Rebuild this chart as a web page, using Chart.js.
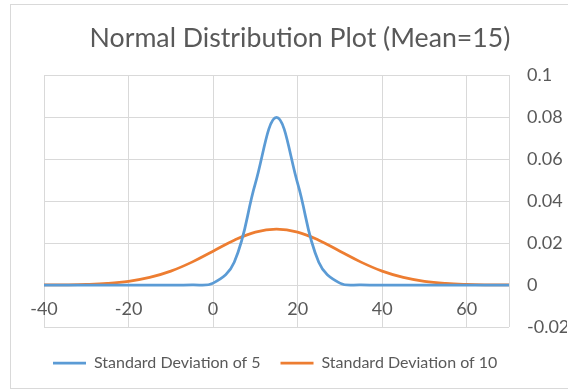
<!DOCTYPE html>
<html>
<head>
<meta charset="utf-8">
<script src="https://cdn.jsdelivr.net/npm/chart.js@4.4.1/dist/chart.umd.min.js"></script>
<style>
  html, body { margin: 0; padding: 0; background: #fff; overflow: hidden; }
  .chart-frame {
    position: absolute; left: 10px; top: 4px;
    width: 560px; height: 383px;
    border: 1px solid #d9d9d9;
  }
  .chart-box { position: relative; width: 556px; height: 383px; }
</style>
</head>
<body>
<div class="chart-frame">
  <div class="chart-box"><canvas id="normalChart"></canvas></div>
</div>
<script>
// Данные (шаг по X = 5)
const xValues = [-40, -35, -30, -25, -20, -15, -10, -5, 0, 5, 10, 15, 20, 25, 30, 35, 40, 45, 50, 55, 60, 65, 70];
const sd5Values = [0, 0, 0, 0, 0, 0, 0, 0.00003, 0.00089, 0.0108, 0.0484, 0.0798, 0.0484, 0.0108, 0.00089, 0.00003, 0, 0, 0, 0, 0, 0, 0];
const sd10Values = [0.00003, 0.0001, 0.0003, 0.00076, 0.00175, 0.0036, 0.0066, 0.0109, 0.0161, 0.0213, 0.0252, 0.0266, 0.0252, 0.0213, 0.0161, 0.0109, 0.0066, 0.0036, 0.00175, 0.00076, 0.0003, 0.0001, 0.00003];
const seriesNames = ['Standard Deviation of 5', 'Standard Deviation of 10'];
const xTicks = [-40, -20, 0, 20, 40, 60, 70];
const xTickLabels = ['-40', '-20', '0', '20', '40', '60', ''];
const yTicks = [-0.02, 0, 0.02, 0.04, 0.06, 0.08, 0.1];
const yTickLabels = ['-0.02', '0', '0.02', '0.04', '0.06', '0.08', '0.1'];

const FONT = 'Lato';
const TEXT_COLOR = '#595959';
const GRID_COLOR = '#d9d9d9';

function toPoints(values) {
    return xValues.map((x, i) => ({ x: x, y: values[i] }));
}

const ctx = document.getElementById('normalChart').getContext('2d');

new Chart(ctx, {
    type: 'line',
    data: {
        datasets: [
            {
                label: seriesNames[0],
                data: toPoints(sd5Values),
                borderColor: '#5B9BD5',
                backgroundColor: '#5B9BD5',
                borderWidth: 2.75,
                pointRadius: 0,
                tension: 0.4,
                fill: false
            },
            {
                label: seriesNames[1],
                data: toPoints(sd10Values),
                borderColor: '#ED7D31',
                backgroundColor: '#ED7D31',
                borderWidth: 2.75,
                pointRadius: 0,
                tension: 0.4,
                fill: false
            }
        ]
    },
    options: {
        responsive: true,
        maintainAspectRatio: false,
        animation: false,
        layout: { padding: { left: 22, right: 0, top: 0, bottom: 7 } },
        scales: {
            x: {
                type: 'linear',
                position: { y: 0 },
                min: -40,
                max: 70,
                afterBuildTicks: axis => { axis.ticks = xTicks.map(v => ({ value: v })); },
                ticks: {
                    autoSkip: false,
                    maxRotation: 0,
                    padding: 13,
                    color: TEXT_COLOR,
                    font: { family: FONT, size: 18 },
                    callback: (value) => xTickLabels[xTicks.indexOf(value)]
                },
                grid: { color: GRID_COLOR, drawTicks: false },
                border: { display: false }
            },
            y: {
                position: 'right',
                min: -0.02,
                max: 0.1,
                afterBuildTicks: axis => { axis.ticks = yTicks.map(v => ({ value: v })); },
                ticks: {
                    padding: 18,
                    color: TEXT_COLOR,
                    font: { family: FONT, size: 18 },
                    callback: (value) => yTickLabels[yTicks.indexOf(value)]
                },
                grid: { color: GRID_COLOR, drawTicks: false },
                border: { display: false },
                afterFit: scale => { scale.width = 58; }
            },
            // пустые оси-распорки: отступ снизу под легенду и слева
            spacerBottom: {
                type: 'linear',
                position: 'bottom',
                ticks: { display: false },
                grid: { display: false },
                border: { display: false },
                afterFit: scale => { scale.height = 8; }
            },
            spacerLeft: {
                type: 'linear',
                position: 'left',
                ticks: { display: false },
                grid: { display: false },
                border: { display: false },
                afterFit: scale => { scale.width = 11; }
            }
        },
        plugins: {
            title: {
                display: true,
                text: 'Normal Distribution Plot (Mean=15)',
                color: TEXT_COLOR,
                font: { family: FONT, size: 26.7, weight: 'normal' },
                padding: { top: 17, bottom: 21 }
            },
            legend: {
                position: 'bottom',
                align: 'start',
                labels: {
                    usePointStyle: true,
                    pointStyle: 'line',
                    pointStyleWidth: 33,
                    padding: 20,
                    color: TEXT_COLOR,
                    font: { family: FONT, size: 16 }
                }
            },
            tooltip: { enabled: false }
        }
    }
});
</script>
</body>
</html>
